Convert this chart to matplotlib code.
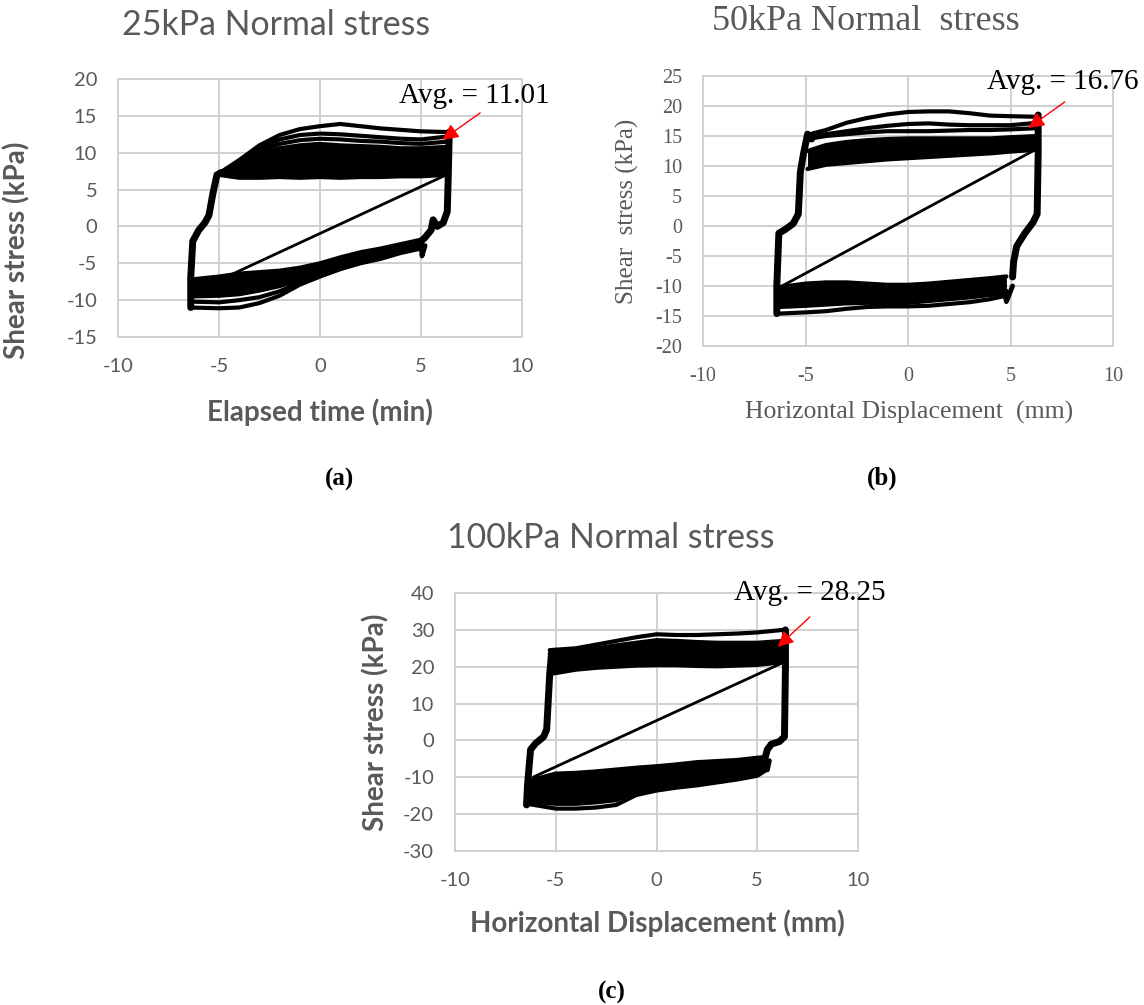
import numpy as np
import matplotlib.pyplot as plt

plt.rcParams['axes.unicode_minus'] = False

W, H = 1144, 1005

xticks = [-10, -5, 0, 5, 10]

# ---- (a) 25 kPa normal stress ----
a_up_x = [-5.0, -4.0, -3.0, -2.0, -1.0, 0.0, 1.0, 2.0, 3.0, 4.0, 5.0, 6.3]
a_up = [
    [7.0, 6.6, 6.6, 6.7, 6.6, 6.7, 6.6, 6.7, 6.7, 6.8, 6.8, 7.0],
    [7.2, 8.0, 9.0, 9.6, 9.8, 9.8, 9.7, 9.6, 9.5, 9.5, 9.5, 9.6],
    [7.2, 8.4, 9.8, 10.6, 11.0, 11.2, 11.0, 10.9, 10.8, 10.6, 10.6, 10.8],
    [7.2, 8.6, 10.2, 11.2, 11.7, 11.9, 11.8, 11.6, 11.5, 11.3, 11.2, 11.5],
    [7.2, 8.8, 10.6, 11.8, 12.4, 12.6, 12.5, 12.3, 12.1, 11.9, 11.8, 12.2],
    [7.2, 9.0, 11.0, 12.4, 13.2, 13.6, 13.9, 13.6, 13.3, 13.1, 12.9, 12.8],
]
a_lo_x = [-6.4, -5.0, -4.0, -3.0, -2.0, -1.0, 0.0, 1.0, 2.0, 3.0, 4.0, 5.0]
a_lo = [
    [-7.2, -6.8, -6.4, -6.2, -6.0, -5.6, -5.0, -4.2, -3.5, -3.0, -2.4, -1.8],
    [-8.5, -8.2, -7.9, -7.5, -7.1, -6.5, -5.8, -5.0, -4.2, -3.6, -3.0, -2.4],
    [-9.5, -9.4, -9.2, -8.7, -8.1, -7.2, -6.3, -5.4, -4.6, -4.0, -3.3, -2.7],
    [-10.2, -10.3, -10.0, -9.6, -8.8, -7.6, -6.6, -5.6, -4.8, -4.2, -3.5, -2.9],
    [-11.0, -11.1, -11.0, -10.4, -9.4, -7.9, -6.8, -5.8, -5.0, -4.4, -3.6, -3.0],
]
a_left_x = [-6.4, -6.4, -6.3, -6.0, -5.7, -5.5, -5.3, -5.1, -4.9]
a_left_y = [-11.0, -7.0, -2.0, -0.5, 0.5, 1.5, 4.5, 7.0, 7.3]
a_right_x = [6.4, 6.35, 6.3, 6.1, 5.8, 5.6, 5.5, 5.2, 5.0]
a_right_y = [12.8, 7.0, 2.0, 0.5, 0.0, 0.9, -0.5, -1.5, -2.0]
a_spike_x = [5.0, 5.05, 5.2]
a_spike_y = [-2.0, -4.0, -2.6]
a_diag_x = [-4.6, 6.1]
a_diag_y = [-6.8, 6.8]

# ---- (b) 50 kPa normal stress ----
b_up_x = [-4.9, -4.0, -3.0, -2.0, -1.0, 0.0, 1.0, 2.0, 3.0, 4.0, 5.0, 6.3]
b_up = [
    [9.5, 10.2, 10.5, 10.8, 11.1, 11.3, 11.5, 11.7, 11.9, 12.1, 12.4, 12.7],
    [12.5, 13.5, 14.0, 14.3, 14.5, 14.6, 14.6, 14.6, 14.6, 14.6, 14.8, 15.0],
    [14.5, 15.0, 15.3, 15.6, 15.8, 15.8, 15.8, 15.9, 16.0, 16.0, 16.1, 16.3],
    [15.0, 15.3, 15.8, 16.3, 16.7, 17.0, 17.1, 16.9, 16.8, 16.8, 16.8, 17.2],
    [15.2, 16.0, 17.2, 18.0, 18.6, 19.0, 19.1, 19.1, 18.8, 18.4, 18.3, 18.2],
]
b_lo_x = [-6.3, -5.0, -4.0, -3.0, -2.0, -1.0, 0.0, 1.0, 2.0, 3.0, 4.0, 4.8]
b_lo = [
    [-10.2, -9.6, -9.4, -9.4, -9.6, -9.8, -9.8, -9.6, -9.3, -9.0, -8.7, -8.4],
    [-12.5, -12.2, -12.0, -11.8, -11.8, -11.9, -11.9, -11.7, -11.5, -11.3, -11.0, -10.8],
    [-13.5, -13.3, -13.1, -12.9, -12.8, -12.9, -12.8, -12.5, -12.2, -11.9, -11.5, -11.2],
    [-14.6, -14.4, -14.2, -13.8, -13.5, -13.4, -13.4, -13.3, -13.0, -12.7, -12.2, -11.6],
]
b_left_x = [-6.4, -6.4, -6.3, -6.0, -5.6, -5.35, -5.25, -5.1, -4.9, -4.7]
b_left_y = [-14.6, -10.0, -1.2, -0.6, 0.4, 2.0, 9.0, 12.0, 15.3, 14.5]
b_right_x = [6.35, 6.35, 6.3, 6.1, 5.7, 5.3, 5.15, 5.1]
b_right_y = [18.5, 12.0, 2.0, 0.6, -1.2, -3.4, -6.0, -8.5]
b_spike_x = [5.1, 4.8, 4.7]
b_spike_y = [-10.0, -12.6, -11.0]
b_diag_x = [-6.2, 6.2]
b_diag_y = [-10.1, 12.7]

# ---- (c) 100 kPa normal stress ----
c_up_x = [-5.3, -4.0, -3.0, -2.0, -1.0, 0.0, 1.0, 2.0, 3.0, 4.0, 5.0, 6.3]
c_up = [
    [18.0, 19.2, 19.7, 20.0, 20.3, 20.4, 20.4, 20.2, 20.1, 20.3, 20.5, 21.2],
    [22.5, 23.5, 24.0, 24.5, 25.0, 25.5, 25.0, 24.8, 24.5, 24.5, 24.7, 25.5],
    [23.5, 24.2, 25.0, 25.8, 26.5, 27.2, 27.0, 26.7, 26.5, 26.5, 26.5, 27.0],
    [24.5, 25.0, 26.0, 27.0, 28.0, 28.8, 28.6, 28.6, 28.8, 29.0, 29.3, 30.0],
]
c_lo_x = [-6.4, -5.0, -4.0, -3.0, -2.0, -1.0, 0.0, 1.0, 2.0, 3.0, 4.0, 5.0, 5.4]
c_lo = [
    [-11.0, -9.0, -8.8, -8.4, -7.9, -7.4, -7.0, -6.5, -5.9, -5.6, -5.3, -4.7, -4.5],
    [-15.5, -15.5, -15.0, -14.5, -14.0, -12.8, -11.8, -11.0, -10.2, -9.6, -9.0, -8.0, -7.5],
    [-16.5, -17.2, -17.2, -16.8, -16.2, -14.0, -12.8, -12.0, -11.3, -10.6, -9.9, -8.9, -8.0],
    [-17.2, -18.5, -18.5, -18.2, -17.5, -14.8, -13.6, -12.8, -12.2, -11.4, -10.6, -9.6, -8.2],
]
c_left_x = [-6.45, -6.4, -6.25, -6.0, -5.6, -5.45, -5.4, -5.3, -5.2]
c_left_y = [-17.5, -12.0, -2.5, -0.8, 1.0, 3.0, 8.0, 18.0, 24.0]
c_right_x = [6.4, 6.4, 6.35, 6.1, 5.7, 5.5, 5.4]
c_right_y = [30.0, 20.0, 1.0, -0.3, -1.0, -2.5, -4.5]
c_spike_x = [5.4, 5.5, 5.6]
c_spike_y = [-4.5, -8.0, -5.5]
c_diag_x = [-6.1, 6.35]
c_diag_y = [-9.9, 21.3]

GRID = '#d0d0d0'
TXT = '#595959'
SANS = ['Lato', 'DejaVu Sans']
SERIF = ['Liberation Serif', 'DejaVu Serif']


def px(x, y):
    return x / W, 1 - y / H


def axes_at(left, top, right, bottom):
    l, t = px(left, top)
    r, b = px(right, bottom)
    return fig.add_axes([l, b, r - l, t - b])


def setup(ax, ylim, yticks, family):
    ax.set_xlim(-10, 10)
    ax.set_ylim(*ylim)
    ax.set_xticks(xticks)
    ax.set_yticks(yticks)
    ax.grid(True, color=GRID, lw=1.4)
    ax.set_axisbelow(True)
    for s in ax.spines.values():
        s.set_color(GRID)
        s.set_linewidth(1.4)
    ax.tick_params(axis='x', length=0, pad=15, labelsize=14.5, labelcolor=TXT)
    ax.tick_params(axis='y', length=0, pad=15, labelsize=14.5, labelcolor=TXT)
    for lab in ax.get_xticklabels() + ax.get_yticklabels():
        lab.set_family(family)


def loops(ax, up_x, up, nfill_up, lo_x, lo, nfill_lo, lx, ly, rx, ry, sx, sy, dx, dy):
    # dense part of each band is solid black
    ax.fill_between(up_x, up[0], up[nfill_up], color='k', lw=0)
    ax.fill_between(lo_x, lo[0], lo[nfill_lo], color='k', lw=0)
    for c in up:
        ax.plot(up_x, c, color='k', lw=3, solid_joinstyle='round', solid_capstyle='round')
    for c in lo:
        ax.plot(lo_x, c, color='k', lw=3, solid_joinstyle='round', solid_capstyle='round')
    ax.plot(lx, ly, color='k', lw=5, solid_joinstyle='round', solid_capstyle='round')
    ax.plot(rx, ry, color='k', lw=5, solid_joinstyle='round', solid_capstyle='round')
    ax.plot(sx, sy, color='k', lw=3.5, solid_joinstyle='round', solid_capstyle='round')
    ax.plot(dx, dy, color='k', lw=2)


def avg(ax, text, xy, xytext, txy):
    ax.annotate('', xy=xy, xytext=xytext,
                arrowprops=dict(arrowstyle='-|>', color='red', lw=1,
                                mutation_scale=24, shrinkA=0, shrinkB=0))
    ax.text(txy[0], txy[1], text, ha='center', va='center', fontsize=21,
            family=SERIF, color='k', clip_on=False)


fig = plt.figure(figsize=(W / 100, H / 100), dpi=100)

# (a)
ax1 = axes_at(118, 79, 522, 337)
setup(ax1, (-15, 20), range(-15, 21, 5), SANS)
loops(ax1, a_up_x, a_up, 2, a_lo_x, a_lo, 2, a_left_x, a_left_y, a_right_x, a_right_y,
      a_spike_x, a_spike_y, a_diag_x, a_diag_y)
avg(ax1, 'Avg. = 11.01', (6.06, 11.76), (7.93, 15.4), (7.66, 17.7))
fig.text(*px(276, 25), '25kPa Normal stress', ha='center', va='center',
         fontsize=24.4, family=SANS, color=TXT)
fig.text(*px(320, 412), 'Elapsed time (min)', ha='center', va='center',
         fontsize=20, family=SANS, weight='bold', color=TXT)
fig.text(*px(17, 250), 'Shear stress (kPa)', ha='center', va='center',
         rotation=90, fontsize=20, family=SANS, weight='bold', color=TXT)

# (b)
ax2 = axes_at(703, 76, 1113, 346)
setup(ax2, (-20, 25), range(-20, 26, 5), SERIF)
loops(ax2, b_up_x, b_up, 1, b_lo_x, b_lo, 2, b_left_x, b_left_y, b_right_x, b_right_y,
      b_spike_x, b_spike_y, b_diag_x, b_diag_y)
avg(ax2, 'Avg. = 16.76', (5.87, 16.33), (7.64, 20.67), (7.53, 24.0))
fig.text(*px(866, 22), '50kPa Normal  stress', ha='center', va='center',
         fontsize=26, family=SERIF, color=TXT)
fig.text(*px(909, 412), 'Horizontal Displacement  (mm)', ha='center', va='center',
         fontsize=18.5, family=SERIF, color=TXT)
fig.text(*px(627, 211), 'Shear  stress (kPa)', ha='center', va='center',
         rotation=90, fontsize=18, family=SERIF, color=TXT)

# (c)
ax3 = axes_at(455, 593, 858, 851)
setup(ax3, (-30, 40), range(-30, 41, 10), SANS)
loops(ax3, c_up_x, c_up, 2, c_lo_x, c_lo, 2, c_left_x, c_left_y, c_right_x, c_right_y,
      c_spike_x, c_spike_y, c_diag_x, c_diag_y)
avg(ax3, 'Avg. = 28.25', (6.01, 25.35), (7.61, 33.5), (7.61, 40.0))
fig.text(*px(611, 538), '100kPa Normal stress', ha='center', va='center',
         fontsize=24.4, family=SANS, color=TXT)
fig.text(*px(657, 923), 'Horizontal Displacement (mm)', ha='center', va='center',
         fontsize=20, family=SANS, weight='bold', color=TXT)
fig.text(*px(376, 722), 'Shear stress (kPa)', ha='center', va='center',
         rotation=90, fontsize=20, family=SANS, weight='bold', color=TXT)

# captions
for lab, x, y in [('(a)', 340, 479), ('(b)', 882, 478), ('(c)', 612, 992)]:
    fig.text(*px(x, y), lab, ha='center', va='center', fontsize=18,
             family=SERIF, weight='bold', color='k')

fig.savefig('out.png', dpi=100)
